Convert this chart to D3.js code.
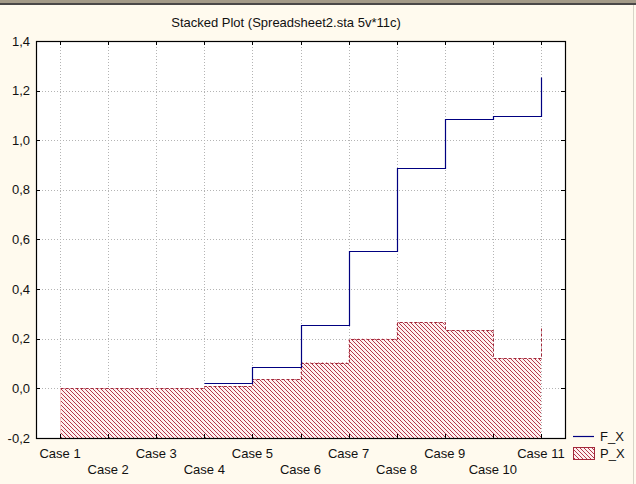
<!DOCTYPE html>
<html><head><meta charset="utf-8">
<script src="https://cdn.jsdelivr.net/npm/d3@7"></script>
<style>
html,body{margin:0;padding:0;background:#fffaee;}
svg{display:block;font-family:"Liberation Sans",Arial,sans-serif;}
</style></head>
<body>
<script>
const title = "Stacked Plot (Spreadsheet2.sta 5v*11c)";
const categories = ["Case 1","Case 2","Case 3","Case 4","Case 5","Case 6","Case 7","Case 8","Case 9","Case 10","Case 11"];
const seriesNames = ["F_X","P_X"];
const fValues = [0, 0, 0, 0.02, 0.085, 0.254, 0.554, 0.887, 1.086, 1.097, 1.256];
const pValues = [0, 0, 0, 0.01, 0.037, 0.104, 0.2, 0.267, 0.234, 0.121, 0.249];
const yTicks = [-0.2, 0, 0.2, 0.4, 0.6, 0.8, 1.0, 1.2, 1.4];

const W = 636, H = 484;
const m = {left: 36, right: 565, top: 41, bottom: 438};

const svg = d3.select("body").append("svg").attr("width", W).attr("height", H);
svg.append("rect").attr("width", W).attr("height", H).attr("fill", "#fffaee");
// window frame
svg.append("rect").attr("x",0).attr("y",0).attr("width",W).attr("height",3).attr("fill","#a39a88");
svg.append("rect").attr("x",0).attr("y",3).attr("width",W).attr("height",2).attr("fill","#4a4848");
svg.append("rect").attr("x",633).attr("y",5).attr("width",1).attr("height",H).attr("fill","#d8d4c8");

const defs = svg.append("defs");
const pat = defs.append("pattern").attr("id","hatch").attr("patternUnits","userSpaceOnUse")
  .attr("width",4).attr("height",4);
pat.append("rect").attr("width",4).attr("height",4).attr("fill","#fff0f0");
pat.append("path").attr("d","M-1,-1L5,5M-1,3L1,5M3,-1L5,1")
  .attr("stroke","#b3384a").attr("stroke-width",1);

const x = d3.scaleLinear().domain([0.5, categories.length + 0.5]).range([m.left, m.right]);
const y = d3.scaleLinear().domain([-0.2, 1.4]).range([m.bottom, m.top]);

svg.append("rect").attr("x",m.left).attr("y",m.top).attr("width",m.right-m.left).attr("height",m.bottom-m.top).attr("fill","#fff");

// grid
const grid = svg.append("g").attr("stroke","#b4b4b4").attr("stroke-width",1).attr("stroke-dasharray","1,2");
categories.forEach((c,i)=>{
  const xx = Math.round(x(i+1))+0.5;
  grid.append("line").attr("x1",xx).attr("x2",xx).attr("y1",m.top).attr("y2",m.bottom);
});
yTicks.forEach(t=>{
  const yy = Math.round(y(t))+0.5;
  grid.append("line").attr("x1",m.left).attr("x2",m.right).attr("y1",yy).attr("y2",yy);
});

const idx = categories.map((c,i)=>i);
// P area
const area = d3.area().curve(d3.curveStepAfter)
  .x(i=>x(i+1)).y0(y(-0.2)).y1(i=>y(pValues[i]));
svg.append("path").datum(idx).attr("d",area).attr("fill","url(#hatch)");
const pLine = d3.line().curve(d3.curveStepAfter).x(i=>Math.round(x(i+1))+0.5).y(i=>Math.round(y(pValues[i]))+0.5);
svg.append("path").datum(idx).attr("d",pLine).attr("fill","none")
  .attr("stroke","#a3283a").attr("stroke-width",1).attr("stroke-dasharray","3,2");
// left faint edge of area
svg.append("line").attr("x1",Math.round(x(1))+0.5).attr("x2",Math.round(x(1))+0.5)
  .attr("y1",y(pValues[0])).attr("y2",m.bottom).attr("stroke","#f4c8c8");

// F line
const fLine = d3.line().curve(d3.curveStepAfter).x(i=>Math.round(x(i+1))+0.5).y(i=>Math.round(y(fValues[i]))+0.5);
svg.append("path").datum(idx.slice(3)).attr("d",fLine).attr("fill","none")
  .attr("stroke","#000080").attr("stroke-width",1.2);

// frame
svg.append("rect").attr("x",m.left+0.5).attr("y",m.top+0.5).attr("width",m.right-m.left).attr("height",m.bottom-m.top)
  .attr("fill","none").attr("stroke","#000").attr("stroke-width",1.2);

// axes with inner ticks
const ax = svg.append("g").attr("stroke","#000").attr("stroke-width",1);
categories.forEach((c,i)=>{
  const xx = Math.round(x(i+1))+0.5;
  ax.append("line").attr("x1",xx).attr("x2",xx).attr("y1",m.top).attr("y2",m.top+4);
  ax.append("line").attr("x1",xx).attr("x2",xx).attr("y1",m.bottom).attr("y2",m.bottom-4);
});
yTicks.forEach(t=>{
  const yy = Math.round(y(t))+0.5;
  ax.append("line").attr("x1",m.left).attr("x2",m.left+4).attr("y1",yy).attr("y2",yy);
  ax.append("line").attr("x1",m.right).attr("x2",m.right-4).attr("y1",yy).attr("y2",yy);
});

// y labels
const fmt = d3.format(".1f");
svg.append("g").selectAll("text").data(yTicks).join("text")
  .attr("x",30).attr("y",d=>y(d)).attr("dy","0.35em").attr("text-anchor","end")
  .attr("font-size",13).attr("fill","#111").text(d=>fmt(d).replace(".",",").replace("\u2212","-"));

// x labels (staggered)
svg.append("g").selectAll("text").data(categories).join("text")
  .attr("x",(d,i)=>x(i+1)).attr("y",(d,i)=>i%2===0?458:474).attr("text-anchor","middle")
  .attr("font-size",13).attr("fill","#111").text(d=>d);

// title
svg.append("text").attr("x",286).attr("y",27).attr("text-anchor","middle")
  .attr("font-size",13).attr("fill","#111").text(title);

// legend
const lg = svg.append("g");
lg.append("line").attr("x1",573).attr("x2",594).attr("y1",436.5).attr("y2",436.5).attr("stroke","#000080").attr("stroke-width",1.2);
lg.append("text").attr("x",600).attr("y",441).attr("font-size",13).attr("fill","#111").text(seriesNames[0]);
lg.append("rect").attr("x",573.5).attr("y",447.5).attr("width",21).attr("height",12)
  .attr("fill","url(#hatch)").attr("stroke","#a3283a").attr("stroke-width",1);
lg.append("text").attr("x",600).attr("y",458).attr("font-size",13).attr("fill","#111").text(seriesNames[1]);
</script>
</body></html>
